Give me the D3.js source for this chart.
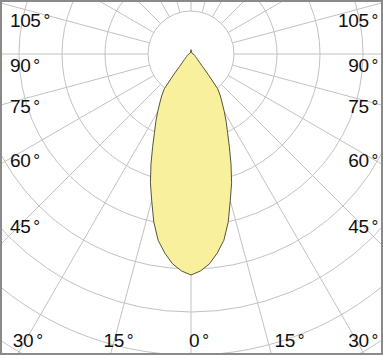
<!DOCTYPE html>
<html>
<head>
<meta charset="utf-8">
<script src="https://cdn.jsdelivr.net/npm/d3@7"></script>
<style>
  html, body { margin: 0; padding: 0; background: #fff; }
  svg { display: block; }
</style>
</head>
<body>
<svg id="chart" width="383" height="355"></svg>
<script>
// light distribution, one half (symmetric), angle measured from nadir
let curveAngles = [0, 2.5, 5, 7.5, 10, 12.5, 15, 17.5, 20, 22.5, 25, 27.5, 30, 32.5, 35, 37.5,
  40, 42.5, 45, 50, 55, 60, 70, 80, 90, 120, 150, 180];
let curveValues = [514, 505, 490, 467, 440, 400, 353, 314, 272, 233, 201, 177, 155, 135, 119, 102,
  63, 40, 29, 20, 15, 12, 9, 7, 5, 3, 3, 10];

let ringValues = [100, 200, 300, 400, 500, 600, 700, 800];
let spokeAngles = d3.range(0, 360, 15);
let sideLabels = [105, 90, 75, 60, 45];
let bottomLabels = [-30, -15, 0, 15, 30];

let width = 383;
let height = 355;
let cx = 191;
let cy = 54;

let svg = d3.select("#chart");
let rScale = d3.scaleLinear().domain([0, 100]).range([0, 43]);

svg.append("defs").append("clipPath").attr("id", "frameClip")
  .append("rect").attr("x", 1).attr("y", 1).attr("width", width - 2).attr("height", height - 2);

svg.append("rect").attr("width", width).attr("height", height).attr("fill", "#fff");

let grid = svg.append("g")
  .attr("clip-path", "url(#frameClip)")
  .append("g")
  .attr("transform", `translate(${cx},${cy})`);

grid.selectAll("circle")
  .data(ringValues)
  .enter()
  .append("circle")
  .attr("r", d => rScale(d))
  .attr("fill", "none")
  .attr("stroke", "#c2c2c2")
  .attr("stroke-width", 1);

// spokes, 0 deg pointing down
grid.selectAll("line")
  .data(spokeAngles)
  .enter()
  .append("line")
  .attr("x1", d => rScale(100) * Math.sin(d * Math.PI / 180))
  .attr("y1", d => rScale(100) * Math.cos(d * Math.PI / 180))
  .attr("x2", d => rScale(1000) * Math.sin(d * Math.PI / 180))
  .attr("y2", d => rScale(1000) * Math.cos(d * Math.PI / 180))
  .attr("stroke", "#c2c2c2")
  .attr("stroke-width", 1);

// build the closed outline: right half down->up, then left half up->down
let pts = [];
curveAngles.forEach((a, i) => pts.push({ a: Math.PI - a * Math.PI / 180, v: curveValues[i] }));
for (let i = curveAngles.length - 2; i > 0; i--) {
  pts.push({ a: Math.PI + curveAngles[i] * Math.PI / 180, v: curveValues[i] });
}

let outline = d3.lineRadial()
  .angle(d => d.a)
  .radius(d => rScale(d.v))
  .curve(d3.curveLinearClosed);

grid.append("path")
  .attr("d", outline(pts))
  .attr("fill", "#f8f09c")
  .attr("stroke", "#55553f")
  .attr("stroke-width", 1)
  .attr("stroke-linejoin", "round");

// labels
let labelY = { 105: 27, 90: 72, 75: 113, 60: 167, 45: 233 };
let bottomY = 347;
let font = "'Liberation Sans', Arial, sans-serif";

function addLabel(x, y, value, anchor) {
  let t = svg.append("text")
    .attr("x", x)
    .attr("y", y)
    .attr("text-anchor", anchor)
    .attr("font-family", font)
    .attr("font-size", 19)
    .attr("letter-spacing", -0.4)
    .attr("fill", "#111")
    .text(value);
  t.append("tspan").attr("dx", 3).attr("font-size", 17).attr("dy", -1).text("°");
  return t;
}

sideLabels.forEach(a => {
  addLabel(10, labelY[a], a, "start");
  addLabel(378, labelY[a], a, "end");
});

bottomLabels.forEach(a => {
  let ix = cx + (bottomY - cy) * Math.tan(a * Math.PI / 180);
  if (a < 0) {
    addLabel(Math.max(11, ix - 9), bottomY, -a, "start");
  } else if (a === 0) {
    addLabel(ix - 2, bottomY, a, "start");
  } else if (ix + 38 > 378) {
    addLabel(378, bottomY, a, "end");
  } else {
    addLabel(ix + 5, bottomY, a, "start");
  }
});

svg.append("rect")
  .attr("x", 1).attr("y", 1)
  .attr("width", width - 2).attr("height", height - 2)
  .attr("fill", "none")
  .attr("stroke", "#8a8a8a")
  .attr("stroke-width", 2);
</script>
</body>
</html>
